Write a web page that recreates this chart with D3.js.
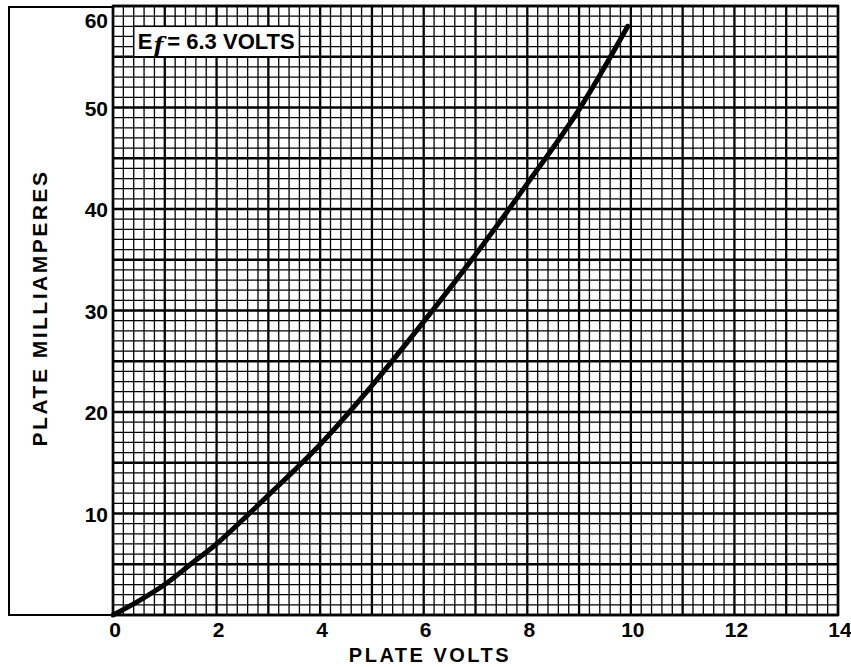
<!DOCTYPE html>
<html><head><meta charset="utf-8">
<script src="https://cdn.jsdelivr.net/npm/d3@7"></script>
<style>
html,body{margin:0;padding:0;background:#fff;}
svg text{font-family:"Liberation Sans",Arial,sans-serif;font-weight:bold;fill:#000;}
</style></head>
<body><svg id="c" width="851" height="667"></svg>
<script>
// Data
const plateVolts = [0, 0.5, 1, 1.5, 2, 3, 4, 5, 6, 7, 8, 9, 9.94];
const plateMilliamperes = [0, 1.4, 3.0, 5.0, 7.0, 11.8, 16.8, 22.6, 28.9, 35.5, 42.5, 49.8, 58.0];
const xTickValues = [0, 2, 4, 6, 8, 10, 12, 14];
const yTickValues = [10, 20, 30, 40, 50, 60];
const xTitle = "PLATE VOLTS";
const yTitle = "PLATE MILLIAMPERES";
const noteLabel = {main: "E", sub: "f", rest: "= 6.3 VOLTS"};

const svg = d3.select("#c");
const x = d3.scaleLinear().domain([0, 14]).range([113, 838]);
const y = d3.scaleLinear().domain([0, 60]).range([615, 6]);

// outer frame on left
svg.append("path")
  .attr("d", `M${x(0)},${y(60)+1} H9 V${y(0)} H${x(0)}`)
  .attr("fill", "none").attr("stroke", "#000").attr("stroke-width", 2);

const grid = svg.append("g");
// vertical grid lines every 0.2 V
d3.range(0, 70 + 1).forEach(i => {
  const v = i / 5;
  const major = i % 5 === 0;
  grid.append("line")
    .attr("x1", x(v)).attr("x2", x(v))
    .attr("y1", y(0)).attr("y2", y(60))
    .attr("stroke", "#000").attr("stroke-width", major ? 2.3 : 1.3);
});
// horizontal grid lines every 1 mA
d3.range(0, 61).forEach(v => {
  const major = v % 5 === 0;
  grid.append("line")
    .attr("x1", x(0)).attr("x2", x(14))
    .attr("y1", y(v)).attr("y2", y(v))
    .attr("stroke", "#000").attr("stroke-width", major ? 2.3 : 1.3);
});
// frame of plot
svg.append("rect")
  .attr("x", x(0)).attr("y", y(60))
  .attr("width", x(14) - x(0)).attr("height", y(0) - y(60))
  .attr("fill", "none").attr("stroke", "#000").attr("stroke-width", 2.5);

// note box
svg.append("rect")
  .attr("x", x(0.4)).attr("y", y(58))
  .attr("width", x(3.6) - x(0.4)).attr("height", y(55) - y(58))
  .attr("fill", "#fff").attr("stroke", "#000").attr("stroke-width", 1.5);
const note = svg.append("text")
  .attr("x", x(0.4) + 4).attr("y", 49)
  .attr("font-size", 22);
note.append("tspan").text(noteLabel.main);
note.append("tspan").attr("dy", 4).attr("dx", 1)
  .style("font-family", "'DejaVu Serif',serif").style("font-style", "italic")
  .attr("font-size", 23).text(noteLabel.sub);
note.append("tspan").attr("dy", -4).attr("dx", 4).text(noteLabel.rest);

// curve
const line = d3.line()
  .x((d, i) => x(plateVolts[i]))
  .y(d => y(d))
  .curve(d3.curveCatmullRom.alpha(0.5));
svg.append("path")
  .datum(plateMilliamperes)
  .attr("d", line)
  .attr("fill", "none").attr("stroke", "#000")
  .attr("stroke-width", 5).attr("stroke-linecap", "round");

// axis tick labels
svg.append("g").selectAll("text").data(xTickValues).join("text")
  .attr("x", d => x(d) + 2).attr("y", 637)
  .attr("text-anchor", "middle").attr("font-size", 21)
  .text(d => d);
svg.append("g").selectAll("text").data(yTickValues).join("text")
  .attr("x", x(0) - 5)
  .attr("y", d => d === 60 ? 28 : y(d) + 8)
  .attr("text-anchor", "end").attr("font-size", 21)
  .text(d => d);

// titles
svg.append("text")
  .attr("x", 430).attr("y", 662)
  .attr("text-anchor", "middle").attr("font-size", 20)
  .attr("letter-spacing", 2.5)
  .text(xTitle);
svg.append("text")
  .attr("transform", "translate(47,308) rotate(-90)")
  .attr("text-anchor", "middle").attr("font-size", 21)
  .attr("letter-spacing", 2.5)
  .text(yTitle);
</script></body></html>
